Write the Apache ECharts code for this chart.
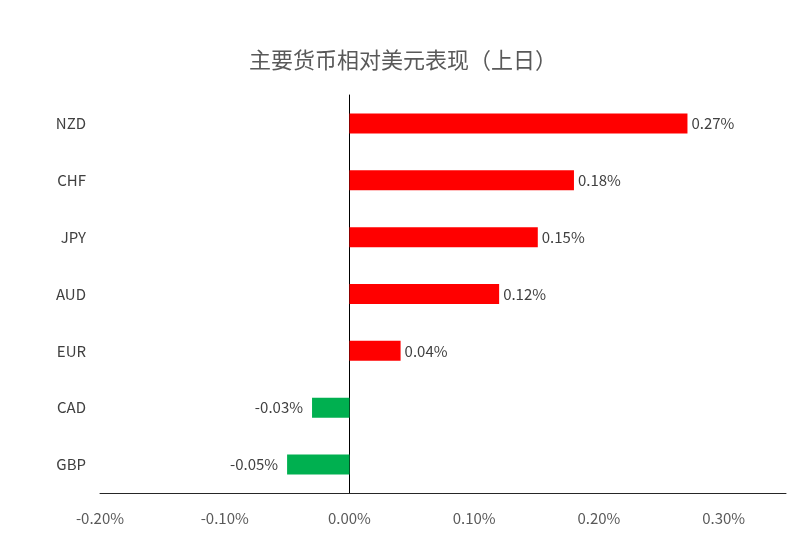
<!DOCTYPE html>
<html><head><meta charset="utf-8">
<script src="https://cdn.jsdelivr.net/npm/echarts@6/dist/echarts.min.js"></script>
<style>body{margin:0}#c{width:806px;height:554px}</style></head>
<body><div id="c"></div>
<script>
const categories = ['NZD','CHF','JPY','AUD','EUR','CAD','GBP'];
const values = [0.271, 0.180, 0.151, 0.120, 0.041, -0.030, -0.050];
const valueLabels = ['0.27%','0.18%','0.15%','0.12%','0.04%','-0.03%','-0.05%'];
const tickLabels = ['-0.20%','-0.10%','0.00%','0.10%','0.20%','0.30%'];
const chart = echarts.init(document.getElementById('c'));
const font = '"Noto Sans CJK SC", "Microsoft YaHei", sans-serif';
chart.setOption({
  animation:false,
  title:{text:'主要货币相对美元表现（上日）',left:'center',top:44,textStyle:{fontSize:22,fontWeight:'normal',color:'#595959',fontFamily:font}},
  grid:{left:100,right:20,top:95,bottom:61,containLabel:false},
  xAxis:{type:'value',min:-0.2,max:0.35,interval:0.1,
    axisLine:{show:true,onZero:false,lineStyle:{color:'#262626'}},
    axisTick:{show:false},splitLine:{show:false},
    axisLabel:{color:'#595959',fontSize:15,margin:18,fontFamily:font,
      formatter:v=>{const i=Math.round((v+0.2)/0.1);return tickLabels[i]||'';}}},
  yAxis:[
    {type:'category',data:categories,inverse:true,axisLine:{onZero:true,lineStyle:{color:'#000'}},
     axisTick:{show:false},axisLabel:{show:false}},
    {type:'category',data:categories,inverse:true,position:'left',offset:0,
     axisLine:{show:false,onZero:false},axisTick:{show:false},
     axisLabel:{color:'#404040',fontSize:15,margin:14,fontFamily:font}}
  ],
  series:[{type:'bar',yAxisIndex:0,barWidth:20,
    data:values.map(v=>({value:v,itemStyle:{color:v>=0?'#ff0000':'#00b050'},
      label:{show:true,position:v>=0?'right':'left',distance:v>=0?4:9}})),
    label:{color:'#404040',fontSize:15,fontFamily:font,formatter:p=>valueLabels[p.dataIndex]}}]
});
</script></body></html>
